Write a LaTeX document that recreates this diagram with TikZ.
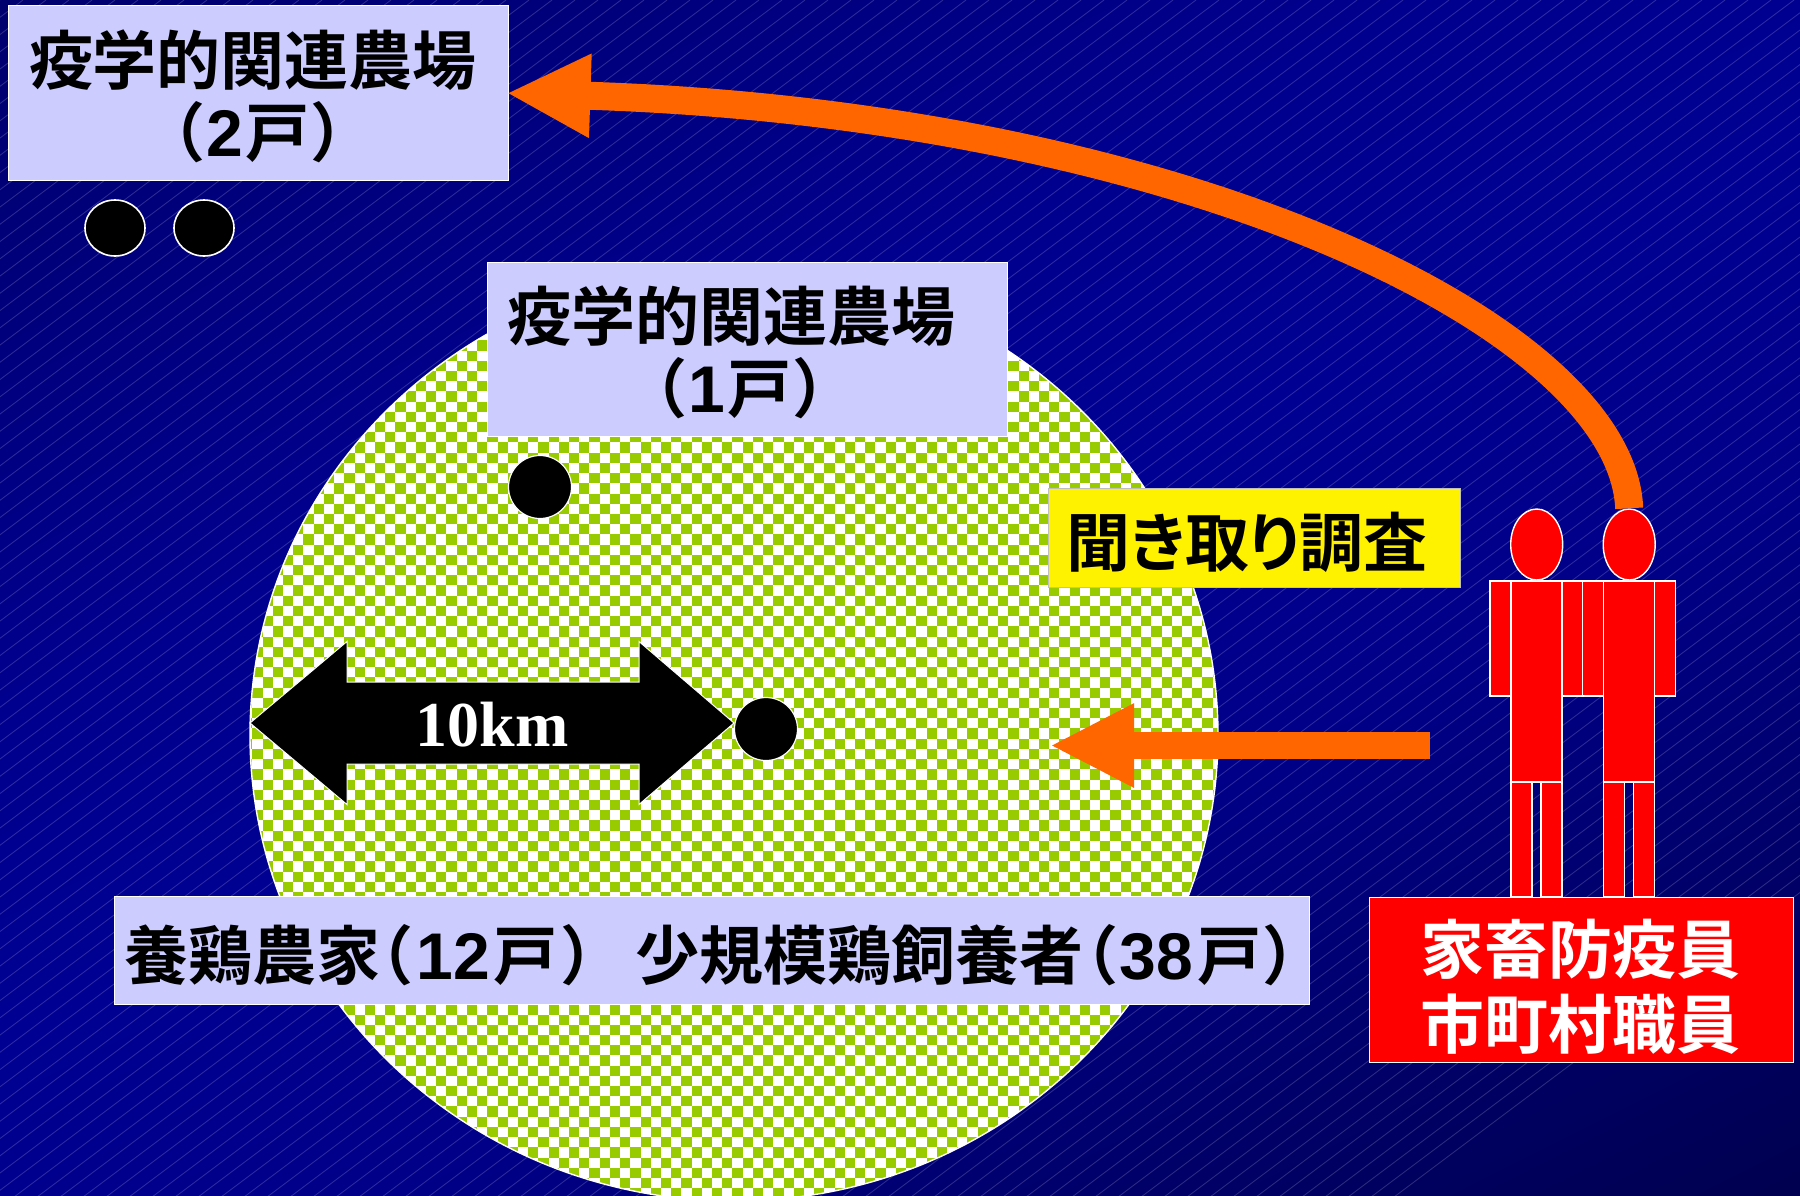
\documentclass[tikz,border=0pt]{standalone}
\usepackage{fontspec}
\usetikzlibrary{arrows.meta,shapes.geometric}
\newfontfamily\jp[RawFeature=+palt]{Noto Sans CJK JP Bold}
\newfontfamily\tms{Liberation Serif}
\newfontfamily\dgt{Liberation Sans}
\newcommand{\dg}[1]{{\dgt\bfseries\fontsize{33}{36}\selectfont #1}}
\definecolor{boxblue}{HTML}{CCCCFF}
\definecolor{chk}{HTML}{99CC00}
\definecolor{org}{HTML}{FF6600}
\definecolor{bga}{HTML}{000050}
\definecolor{bgb}{HTML}{000068}
\definecolor{bgc}{HTML}{000088}
\definecolor{bgd}{HTML}{000092}
\definecolor{bge}{HTML}{00008E}
\definecolor{bgf}{HTML}{00006E}
\pgfdeclareverticalshading{bgshade}{100bp}{color(0bp)=(bga);color(16.5bp)=(bga);color(27bp)=(bgb);color(39bp)=(bgc);color(50bp)=(bgd);color(61bp)=(bge);color(83.5bp)=(bgf);color(100bp)=(bgf)}
\tikzset{
 lab/.style={draw=white,line width=0.7pt,fill=boxblue,inner sep=0pt,anchor=north west},
 txt/.style={font=\jp\fontsize{32}{36}\selectfont,text=black,align=center,inner sep=0pt},
 dotm/.style={circle,draw=white,line width=0.6pt,fill=black,inner sep=0pt,minimum size=31.5pt},
 dott/.style={ellipse,draw=white,line width=0.8pt,fill=black,inner sep=0pt,minimum width=30pt,minimum height=28pt},
 red part/.style={draw=white,line width=0.7pt,fill=red},
 oarrow/.style={draw=org,line width=13.5pt,shorten >=-1.5pt,-{Triangle[length=42pt,width=39pt]}},
}
\begin{document}
\begin{tikzpicture}[x=0.5pt,y=-0.5pt]
\useasboundingbox (0,0) rectangle (1800,1195);
\begin{scope}
\clip (0,0) rectangle (1800,1195);
\shade[shading=bgshade,shading angle=26.6] (0,0) rectangle (1800,1195);
\foreach \i in {-60,...,130}{
 \draw[white,opacity=.18,line width=.4pt] (\i*23,0) -- ++(-1800,1350);
}
\end{scope}
\begin{scope}
\clip (734,735) ellipse [x radius=484,y radius=466];
\fill[white] (240,240) rectangle (1230,1200);
\foreach \r in {0,...,47}{
 \foreach \c in {0,...,48}{
   \fill[chk] (804-28*20.43+\c*20.43,810.2-28*20.43+\r*20.43) rectangle ++(10.2,10.2);
   \fill[chk] (814.2-28*20.43+\c*20.43,800-28*20.43+\r*20.43) rectangle ++(10.2,10.2);
 }
}
\end{scope}
\draw[white,line width=.7pt] (734,735) ellipse [x radius=484,y radius=466];
\node[lab,minimum width=250pt,minimum height=87.5pt] (b1) at (8,5) {};
\node[txt] (t1) at (253,60) {疫学的関連農場};
\node[txt] (t1b) at (258,132) {（\hspace{2pt}\dg{2}\hspace{1pt}戸\hspace{2pt}）};
\node[dott] (d1) at (115,228) {};
\node[dott] (d2) at (204,228) {};
\node[lab,minimum width=260pt,minimum height=87pt] (b2) at (487,262) {};
\node[txt] (t2) at (731,316) {疫学的関連農場};
\node[txt] (t2b) at (740,388) {（\hspace{2pt}\dg{1}\hspace{1pt}戸\hspace{2pt}）};
\node[dotm] (d3) at (540,487) {};
\node[dotm] (d4) at (766,729) {};
\node[lab,fill=yellow,draw=lightgray,minimum width=206pt,minimum height=49.5pt] (b3) at (1048,488) {};
\node[txt] (t3) at (1247,542) {聞き取り調査};
\node[lab,minimum width=597.5pt,minimum height=54pt] (b4) at (114,896) {};
\node[txt,anchor=west] (t4) at (124,955) {養鶏農家\hspace{-1pt}（\hspace{3pt}\dg{12}\hspace{2pt}戸\hspace{3pt}）\hspace{20pt}少規模鶏飼養者\hspace{0pt}（\hspace{2pt}\dg{38}\hspace{2pt}戸\hspace{2pt}）};
\path[fill=black,draw=white,line width=.5pt] (250,723) -- (347,641.5) -- (347,682) -- (639,682) -- (639,641.5) -- (734,723) -- (639,804.5) -- (639,764) -- (347,764) -- (347,804.5) -- cycle;
\node[font=\tms\bfseries\fontsize{32}{36}\selectfont,text=white,inner sep=0pt] (km) at (492,725) {10km};
% people
\foreach \x/\n in {0/a,92.5/b}{
 \draw[red part] (1490+\x,581) rectangle (1511+\x,696);
 \draw[red part] (1562+\x,581) rectangle (1583+\x,696);
 \draw[red part] (1511+\x,782) rectangle (1532+\x,897);
 \draw[red part] (1541+\x,782) rectangle (1562+\x,897);
 \draw[red part] (1511+\x,581) rectangle (1562+\x,782);
 \node[ellipse,draw=white,fill=red,line width=.7pt,minimum width=26pt,minimum height=35.5pt,inner sep=0pt] (head\n) at (1536.7+\x,544.5) {};
}
\node[lab,fill=red,minimum width=212pt,minimum height=82.5pt] (b5) at (1369,897) {};
\node[txt,text=white] (t5) at (1580,949) {家畜防疫員};
\node[txt,text=white] (t5b) at (1580,1024) {市町村職員};
\coordinate (sa) at (1430,745.5);
\coordinate (se) at (1053,745.5);
\draw[oarrow] (sa) -- (se);
\draw[oarrow,line width=14pt] (headb.north) .. controls (1622,330) and (1190,115) .. (b1.east);
\end{tikzpicture}
\end{document}
